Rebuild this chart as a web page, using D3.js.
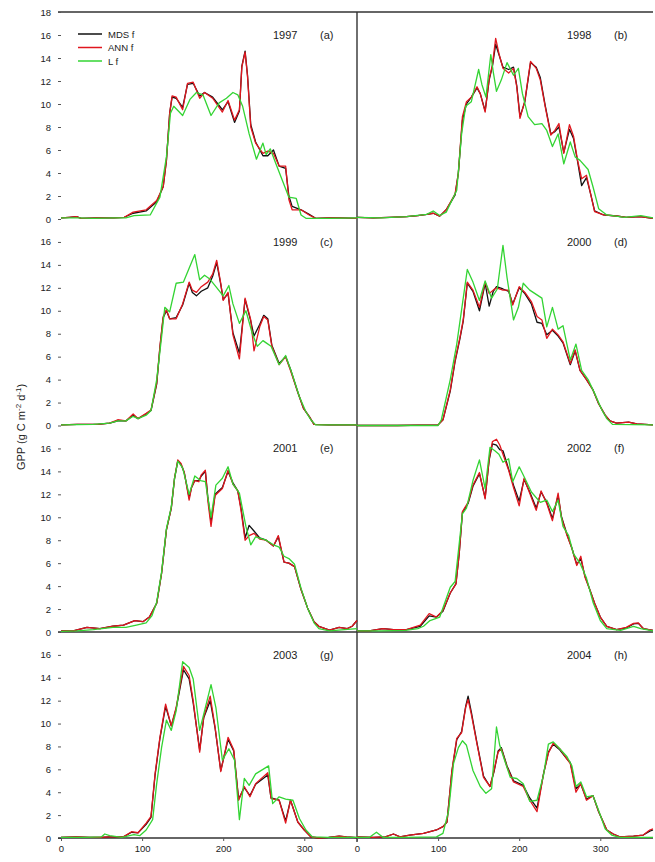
<!DOCTYPE html>
<html><head><meta charset="utf-8">
<script src="https://cdn.jsdelivr.net/npm/d3@7"></script>
<style>body{margin:0;background:#fff}svg{display:block}text{font-family:Arial,"Liberation Sans",sans-serif}</style>
</head><body>
<script>
// ---------- DATA (day of year, GPP) ----------
const years = ["1997","1998","1999","2000","2001","2002","2003","2004"];
const panelTags = ["(a)","(b)","(c)","(d)","(e)","(f)","(g)","(h)"];
const seriesNames = ["MDS f","ANN f","L f"];
const yTicks = [0,2,4,6,8,10,12,14,16];
const xTicks = [0,100,200,300];

const ann1997 = [[0,0.1],[10,0.15],[19,0.2],[25,0.05],[45,0.1],[65,0.1],[78,0.15],[89,0.6],[105,0.8],[118,1.6],[126,2.8],[130,5.1],[134,9.2],[137,10.7],[142,10.6],[150,9.5],[156,11.8],[163,11.9],[171,10.5],[177,11.0],[187,10.5],[199,9.3],[206,10.3],[214,8.6],[220,9.5],[223,13.2],[227,14.5],[230,12.4],[234,8.0],[240,6.6],[249,5.7],[255,5.9],[262,5.7],[269,4.6],[277,4.6],[281,1.7],[285,0.8],[296,0.8],[306,0.35],[314,0.06],[330,0.1],[345,0.1],[365,0.05]];
const mds1997 = [[0,0.1],[10,0.15],[19,0.2],[25,0.05],[45,0.1],[65,0.1],[78,0.15],[89,0.5],[105,0.7],[118,1.5],[126,2.8],[130,5.1],[134,9.2],[137,10.6],[142,10.5],[150,9.7],[156,11.7],[163,11.8],[171,10.7],[177,11.0],[187,10.6],[199,9.5],[206,10.2],[214,8.4],[220,9.4],[223,13.3],[227,14.6],[230,12.5],[234,8.2],[240,6.7],[249,5.5],[255,5.5],[262,6.0],[269,4.6],[277,4.4],[281,2.0],[285,1.1],[296,0.8],[306,0.4],[314,0.06],[330,0.1],[345,0.1],[365,0.05]];
const lt1997 = [[0,0.1],[20,0.1],[40,0.05],[65,0.1],[80,0.1],[90,0.3],[110,0.35],[122,1.9],[130,5.4],[135,9.2],[139,9.8],[150,9.0],[159,10.4],[167,11.0],[175,10.8],[185,9.0],[195,10.1],[204,10.5],[212,11.0],[218,10.8],[224,9.8],[232,7.4],[241,5.2],[249,6.6],[253,5.6],[258,6.1],[265,4.8],[281,1.9],[290,1.8],[296,0.35],[302,0.06],[330,0.05],[365,0.1]];

const ann1998 = [[0,0.15],[20,0.1],[40,0.15],[61,0.2],[75,0.3],[86,0.4],[94,0.5],[102,0.25],[110,0.8],[121,2.2],[125,4.0],[130,8.9],[135,10.2],[141,10.6],[148,11.5],[152,10.9],[158,9.3],[163,12.2],[167,13.4],[171,15.7],[175,14.4],[180,13.1],[187,12.7],[193,13.1],[197,11.5],[201,8.75],[207,10.3],[214,13.7],[221,13.1],[226,12.1],[232,9.8],[239,7.3],[244,7.7],[249,8.3],[255,5.7],[262,8.2],[267,7.2],[272,5.1],[277,3.5],[283,3.8],[288,2.2],[293,0.64],[304,0.35],[320,0.26],[332,0.15],[349,0.2],[365,0.06]];
const mds1998 = [[0,0.15],[20,0.1],[40,0.15],[61,0.2],[75,0.3],[86,0.4],[94,0.5],[102,0.25],[110,0.8],[121,2.1],[125,4.0],[130,8.6],[135,10.0],[141,10.6],[148,11.4],[152,10.9],[158,9.4],[163,12.1],[167,13.3],[171,15.2],[175,14.3],[180,13.2],[187,13.0],[193,13.2],[197,11.6],[201,8.9],[207,10.2],[214,13.6],[221,13.2],[226,12.3],[232,9.9],[239,7.4],[244,7.6],[249,8.0],[255,5.8],[262,7.8],[267,7.0],[272,5.0],[277,2.9],[283,3.6],[288,2.2],[293,0.7],[304,0.35],[320,0.26],[332,0.15],[349,0.2],[365,0.06]];
const lt1998 = [[0,0.15],[30,0.1],[61,0.2],[86,0.4],[94,0.7],[102,0.3],[110,0.6],[123,2.5],[129,7.4],[134,9.8],[141,10.2],[150,13.0],[154,11.7],[159,10.6],[165,14.3],[168,12.8],[172,11.1],[178,12.1],[185,13.6],[193,12.5],[199,13.1],[204,10.9],[211,8.9],[219,8.2],[228,8.3],[234,7.7],[241,6.3],[248,7.4],[255,4.8],[263,6.7],[269,5.4],[275,5.1],[285,4.3],[291,2.8],[298,0.9],[308,0.35],[330,0.15],[350,0.3],[365,0.1]];

const ann1999 = [[0,0.05],[20,0.1],[45,0.1],[60,0.2],[70,0.5],[80,0.4],[89,1.0],[95,0.6],[105,1.06],[111,1.35],[118,3.7],[122,6.9],[126,9.5],[130,10.1],[134,9.3],[142,9.3],[150,10.6],[158,12.5],[162,11.8],[167,11.6],[173,12.1],[181,12.5],[187,13.2],[192,14.4],[197,12.4],[200,10.9],[206,11.6],[212,7.9],[220,5.8],[227,11.1],[234,9.2],[238,6.5],[245,8.6],[250,9.5],[255,9.2],[260,6.9],[269,5.3],[277,6.0],[283,4.8],[292,2.9],[299,1.5],[306,0.8],[312,0.1],[330,0.05],[365,0.05]];
const mds1999 = [[0,0.05],[20,0.1],[45,0.1],[60,0.2],[70,0.4],[80,0.4],[89,0.9],[95,0.6],[105,1.0],[111,1.3],[118,3.6],[122,6.8],[126,9.4],[130,10.0],[134,9.3],[142,9.4],[150,10.5],[158,12.4],[162,11.6],[167,11.3],[173,11.7],[181,12.0],[187,13.0],[192,14.2],[197,12.3],[200,11.0],[206,11.5],[212,8.1],[220,6.3],[227,11.0],[234,9.1],[238,7.8],[245,8.8],[250,9.6],[255,9.3],[260,7.0],[269,5.4],[277,6.0],[283,4.9],[292,2.9],[299,1.5],[306,0.8],[312,0.1],[330,0.05],[365,0.05]];
const lt1999 = [[0,0.05],[40,0.1],[60,0.2],[70,0.4],[80,0.4],[89,0.8],[95,0.6],[105,0.9],[111,1.3],[118,4.0],[124,7.7],[128,10.3],[134,9.9],[142,12.4],[151,12.5],[158,13.7],[165,14.9],[171,12.7],[177,13.1],[183,12.8],[191,12.1],[200,11.3],[207,12.2],[212,10.6],[220,8.9],[228,10.0],[236,8.0],[242,6.9],[249,7.4],[253,7.2],[259,6.9],[269,5.3],[277,6.1],[285,4.5],[294,2.5],[302,1.2],[308,0.5],[314,0.05],[365,0.05]];

const ann2000 = [[0,0],[50,0],[100,0.05],[106,0.5],[115,3.1],[121,5.7],[127,7.7],[131,9.2],[136,12.5],[143,11.8],[151,10.3],[158,12.5],[163,11.5],[168,11.8],[172,12.0],[180,11.8],[187,11.8],[192,10.5],[200,12.1],[207,11.6],[215,10.8],[222,9.5],[228,9.2],[234,7.6],[241,8.4],[248,7.9],[254,7.3],[263,5.4],[269,6.6],[275,4.8],[283,4.0],[291,3.1],[298,1.9],[306,0.9],[312,0.4],[320,0.2],[335,0.3],[345,0.15],[365,0.05]];
const mds2000 = [[0,0],[50,0],[100,0.05],[106,0.5],[115,3.0],[121,5.6],[127,7.6],[131,9.1],[136,12.4],[143,11.7],[151,10.0],[158,12.4],[163,10.4],[168,11.7],[172,12.1],[180,11.9],[187,11.7],[192,10.6],[200,12.0],[207,11.5],[215,10.6],[222,9.0],[228,8.9],[234,7.9],[241,8.3],[248,7.8],[254,7.2],[263,5.3],[269,6.5],[275,4.8],[283,4.0],[291,3.1],[298,1.9],[306,0.9],[312,0.4],[320,0.2],[335,0.3],[345,0.15],[365,0.05]];
const lt2000 = [[0,0],[100,0],[104,0.5],[115,4.0],[123,7.1],[130,10.6],[136,13.6],[143,12.5],[151,10.9],[158,12.6],[166,11.1],[173,11.9],[180,15.7],[185,12.9],[193,9.2],[199,10.3],[205,12.4],[213,11.8],[228,11.1],[234,8.6],[241,10.3],[248,8.4],[254,8.7],[263,5.7],[270,7.1],[277,4.8],[285,4.0],[293,2.8],[302,1.35],[308,0.6],[315,0.1],[365,0.05]];

const ann2001 = [[0,0.1],[15,0.1],[32,0.4],[48,0.3],[64,0.5],[77,0.6],[91,1.0],[101,0.9],[109,1.3],[118,2.5],[124,5.1],[130,8.9],[136,10.8],[140,13.4],[144,15.0],[148,14.7],[152,13.9],[158,11.5],[161,12.6],[165,13.2],[170,13.1],[173,13.7],[178,14.1],[181,11.5],[185,9.2],[190,11.9],[199,12.5],[206,14.1],[212,12.9],[218,12.3],[222,10.6],[227,8.0],[232,8.4],[238,8.6],[245,8.1],[253,8.0],[262,7.5],[268,8.4],[275,6.1],[281,6.0],[288,5.7],[296,3.7],[304,2.1],[312,0.9],[318,0.5],[331,0.17],[343,0.4],[353,0.3],[359,0.5],[365,1.0]];
const mds2001 = [[0,0.1],[15,0.1],[32,0.4],[48,0.3],[64,0.5],[77,0.6],[91,1.0],[101,0.9],[109,1.3],[118,2.5],[124,5.1],[130,8.9],[136,10.8],[140,13.4],[144,14.9],[148,14.6],[152,13.9],[158,11.7],[161,12.6],[165,13.2],[170,13.2],[173,13.6],[178,14.0],[181,11.8],[185,9.6],[190,12.0],[199,12.6],[206,14.0],[212,13.0],[218,12.3],[222,10.8],[227,8.2],[232,9.3],[238,8.8],[245,8.2],[253,8.0],[262,7.5],[268,8.3],[275,6.1],[281,6.0],[288,5.7],[296,3.7],[304,2.1],[312,0.9],[318,0.5],[331,0.17],[343,0.4],[353,0.3],[359,0.5],[365,1.0]];
const lt2001 = [[0,0.05],[20,0.1],[40,0.2],[64,0.4],[80,0.4],[93,0.6],[105,0.8],[112,1.4],[118,2.6],[124,5.2],[130,9.0],[136,10.9],[140,13.4],[144,14.9],[150,14.3],[158,12.0],[165,13.6],[172,13.2],[178,13.1],[185,10.0],[191,12.8],[199,13.4],[206,14.4],[212,12.9],[220,12.1],[228,9.2],[234,7.6],[240,8.3],[253,8.0],[262,7.6],[269,7.4],[275,6.6],[281,6.4],[288,5.9],[296,3.8],[304,2.1],[312,0.8],[318,0.3],[331,0.1],[350,0.2],[365,0.3]];

const ann2002 = [[0,0.1],[15,0.1],[32,0.3],[45,0.2],[61,0.2],[78,0.6],[89,1.6],[98,1.3],[106,1.9],[115,3.4],[122,4.2],[126,6.8],[130,10.5],[137,11.3],[143,12.8],[151,13.9],[158,11.6],[163,15.1],[167,16.6],[172,16.8],[176,16.3],[180,15.5],[187,14.1],[193,12.6],[200,11.0],[206,13.4],[213,12.1],[221,10.6],[227,12.3],[234,11.2],[241,9.7],[248,12.1],[252,10.0],[259,8.4],[265,7.3],[271,5.8],[276,6.6],[281,4.8],[287,3.7],[293,2.5],[300,1.3],[308,0.5],[320,0.2],[332,0.4],[341,0.75],[347,0.8],[353,0.3],[365,0.15]];
const mds2002 = [[0,0.1],[15,0.1],[32,0.3],[45,0.2],[61,0.2],[78,0.5],[89,1.4],[98,1.3],[106,1.8],[115,3.4],[122,4.2],[126,6.8],[130,10.4],[137,11.2],[143,12.7],[151,13.8],[158,11.7],[163,15.0],[167,16.4],[172,16.3],[176,15.9],[180,15.8],[187,14.2],[193,12.8],[200,11.4],[206,13.3],[213,12.2],[221,10.8],[227,12.2],[234,11.3],[241,9.9],[248,11.9],[252,10.1],[259,8.5],[265,7.3],[271,5.9],[276,6.4],[281,4.9],[287,3.7],[293,2.5],[300,1.3],[308,0.5],[320,0.2],[332,0.35],[341,0.7],[347,0.75],[353,0.3],[365,0.15]];
const lt2002 = [[0,0.1],[30,0.1],[60,0.15],[75,0.3],[82,0.5],[90,1.0],[102,1.3],[115,3.9],[121,4.4],[130,10.3],[135,10.8],[143,13.2],[151,15.0],[158,12.5],[164,16.1],[170,15.8],[175,15.5],[180,14.8],[187,15.1],[192,13.1],[200,14.4],[207,13.4],[215,12.2],[226,11.3],[234,11.5],[241,10.5],[248,11.5],[254,9.2],[261,8.4],[267,6.8],[275,6.0],[283,4.7],[291,2.6],[300,1.0],[308,0.3],[325,0.15],[341,0.5],[350,0.3],[365,0.1]];

const ann2003 = [[0,0.06],[19,0.1],[35,0.05],[48,0.06],[60,0.1],[77,0.1],[87,0.55],[95,0.46],[105,1.3],[111,1.9],[116,5.6],[122,8.8],[129,11.7],[136,9.8],[142,11.4],[151,15.0],[158,14.2],[163,12.0],[171,7.5],[176,10.6],[184,12.4],[190,9.7],[197,5.8],[206,8.8],[213,7.7],[219,3.3],[226,4.5],[233,3.6],[240,4.75],[255,5.7],[259,3.45],[269,3.3],[277,1.3],[283,3.3],[292,1.4],[300,0.7],[308,0.1],[318,0.0],[330,0.05],[343,0.17],[352,0.1],[365,0.03]];
const mds2003 = [[0,0.06],[19,0.1],[35,0.05],[48,0.06],[60,0.1],[77,0.1],[87,0.5],[95,0.45],[105,1.2],[111,1.8],[116,5.5],[122,8.7],[129,11.5],[136,9.8],[142,11.3],[151,14.7],[158,13.9],[163,11.8],[171,7.7],[176,10.5],[184,12.0],[190,9.6],[197,5.9],[206,8.6],[213,7.6],[219,3.4],[226,4.4],[233,3.7],[240,4.7],[255,5.5],[259,3.5],[269,3.3],[277,1.5],[283,3.3],[292,1.4],[300,0.7],[308,0.1],[318,0.0],[330,0.05],[343,0.17],[352,0.1],[365,0.03]];
const lt2003 = [[0,0.05],[30,0.05],[50,0.1],[54,0.35],[60,0.2],[75,0.05],[90,0.3],[97,0.2],[105,0.7],[113,1.6],[118,4.75],[124,7.9],[130,10.3],[136,9.4],[142,11.1],[150,15.4],[158,14.9],[163,13.9],[171,9.4],[177,11.1],[185,13.4],[191,11.4],[199,6.8],[207,7.8],[214,6.8],[220,1.6],[226,5.2],[232,4.6],[240,5.6],[256,6.3],[261,3.0],[269,3.6],[277,3.4],[286,3.3],[294,1.7],[302,0.7],[310,0.1],[330,0.05],[365,0.05]];

const ann2004 = [[0,0.1],[20,0.05],[35,0.1],[45,0.35],[53,0.1],[65,0.26],[82,0.4],[98,0.7],[106,1.0],[111,1.4],[117,5.9],[123,8.7],[129,9.2],[134,11.4],[137,12.1],[141,10.8],[148,8.2],[156,5.3],[164,4.5],[169,5.9],[174,7.5],[178,7.8],[185,6.2],[193,4.9],[205,4.5],[213,3.3],[222,2.3],[230,5.6],[236,7.4],[242,8.3],[250,7.8],[259,6.9],[263,6.5],[270,4.0],[276,4.75],[283,3.3],[291,3.7],[298,2.3],[308,0.7],[316,0.35],[324,0.1],[341,0.17],[353,0.26],[361,0.7],[365,0.8]];
const mds2004 = [[0,0.1],[20,0.05],[35,0.1],[45,0.35],[53,0.1],[65,0.26],[82,0.4],[98,0.7],[106,1.0],[111,1.4],[117,5.8],[123,8.6],[129,9.3],[134,11.5],[137,12.4],[141,11.0],[148,8.3],[156,5.4],[164,4.5],[169,5.8],[174,7.6],[178,7.9],[185,6.3],[193,5.0],[205,4.6],[213,3.5],[222,2.6],[230,5.6],[236,7.5],[242,8.2],[250,7.7],[259,6.9],[263,6.6],[270,4.3],[276,4.7],[283,3.4],[291,3.7],[298,2.3],[308,0.7],[316,0.35],[324,0.1],[341,0.17],[353,0.26],[361,0.6],[365,0.7]];
const lt2004 = [[0,0.05],[15,0.05],[24,0.5],[32,0.06],[60,0.06],[98,0.1],[106,0.4],[113,2.4],[119,6.5],[125,7.9],[130,8.5],[135,8.1],[143,5.9],[152,4.5],[159,3.9],[166,4.3],[172,9.7],[176,8.1],[182,6.8],[189,5.3],[197,5.2],[205,4.75],[213,3.2],[222,3.3],[230,5.5],[236,8.2],[242,8.4],[250,7.8],[259,7.1],[265,6.3],[270,4.5],[276,4.9],[283,3.6],[291,3.7],[298,2.4],[306,0.8],[314,0.26],[324,0.05],[365,0.05]];

const mdsAll = [mds1997,mds1998,mds1999,mds2000,mds2001,mds2002,mds2003,mds2004];
const annAll = [ann1997,ann1998,ann1999,ann2000,ann2001,ann2002,ann2003,ann2004];
const ltAll  = [lt1997,lt1998,lt1999,lt2000,lt2001,lt2002,lt2003,lt2004];
const colors = ["#111111","#e0161e","#33d433"];

// ---------- LAYOUT ----------
const W = 655, H = 862;
const rowEdges = [12, 219, 425.5, 632, 838];
const colEdges = [[61, 357], [357, 653]];

const svg = d3.select("body").append("svg").attr("width", W).attr("height", H);

const xScales = colEdges.map(c => d3.scaleLinear().domain([0, 365]).range(c));
const yScales = [0,1,2,3].map(r => d3.scaleLinear().domain([0, 18]).range([rowEdges[r+1], rowEdges[r]]));

// frame lines
const frame = svg.append("g").attr("stroke", "#333").attr("stroke-width", 1.4).attr("fill", "none");
frame.append("line").attr("x1", 58).attr("x2", 653).attr("y1", rowEdges[0]).attr("y2", rowEdges[0]);
frame.append("line").attr("x1", 357).attr("x2", 357).attr("y1", rowEdges[0]).attr("y2", rowEdges[4] + 4);
frame.append("line").attr("x1", 58).attr("x2", 653).attr("y1", rowEdges[3]).attr("y2", rowEdges[3]);

// y axes (left column)
for (let r = 0; r < 4; r++) {
  const ticks = r === 0 ? yTicks.concat([18]) : yTicks;
  const ax = svg.append("g").attr("transform", `translate(61,0)`)
    .call(d3.axisLeft(yScales[r]).tickValues(ticks).tickSize(3).tickPadding(7));
  ax.select(".domain").remove();
  ax.selectAll("line").attr("stroke", "#555");
  ax.selectAll("text").attr("font-size", 9.5).attr("fill", "#222")
    .attr("font-family", "Arial, 'Liberation Sans', sans-serif");
}

// x axes (bottom)
for (let c = 0; c < 2; c++) {
  const ax = svg.append("g").attr("transform", `translate(0,${rowEdges[4]})`)
    .call(d3.axisBottom(xScales[c]).tickValues(xTicks).tickSize(3).tickPadding(4));
  ax.select(".domain").attr("d", `M${c === 0 ? 58 : 357},0H${colEdges[c][1]}`).attr("stroke", "#333").attr("stroke-width", 1.4);
  ax.selectAll("line").attr("stroke", "#555");
  ax.selectAll("text").attr("font-size", 9.5).attr("fill", "#222")
    .attr("font-family", "Arial, 'Liberation Sans', sans-serif");
}

// lines
for (let i = 0; i < 8; i++) {
  const r = Math.floor(i / 2), c = i % 2;
  const x = xScales[c], y = yScales[r];
  const line = d3.line().x(d => x(d[0])).y(d => y(d[1]));
  const g = svg.append("g").attr("fill", "none").attr("stroke-linejoin", "round");
  [mdsAll[i], annAll[i], ltAll[i]].forEach((s, k) => {
    g.append("path").datum(s).attr("d", line).attr("stroke", colors[k]).attr("stroke-width", 1.3);
  });
  const tx = c === 0 ? 273 : 567;
  svg.append("text").attr("x", tx).attr("y", rowEdges[r] + 26.5).attr("font-size", 11).attr("fill", "#222").text(years[i]);
  svg.append("text").attr("x", tx + 47).attr("y", rowEdges[r] + 26.5).attr("font-size", 11).attr("fill", "#222").text(panelTags[i]);
}

// legend
const leg = svg.append("g");
seriesNames.forEach((n, k) => {
  const yy = 34 + k * 13.5;
  leg.append("line").attr("x1", 78).attr("x2", 102).attr("y1", yy).attr("y2", yy).attr("stroke", colors[k]).attr("stroke-width", 1.5);
  leg.append("text").attr("x", 108).attr("y", yy + 3.5).attr("font-size", 9.5).attr("fill", "#222").text(n);
});

// y title
const yt = svg.append("text").attr("transform", "translate(25,427) rotate(-90)")
  .attr("text-anchor", "middle").attr("font-size", 11).attr("fill", "#222");
yt.append("tspan").text("GPP (g C m");
yt.append("tspan").attr("dy", -4).attr("font-size", 8).text("-2");
yt.append("tspan").attr("dy", 4).text(" d");
yt.append("tspan").attr("dy", -4).attr("font-size", 8).text("-1");
yt.append("tspan").attr("dy", 4).text(")");
</script>
</body></html>
